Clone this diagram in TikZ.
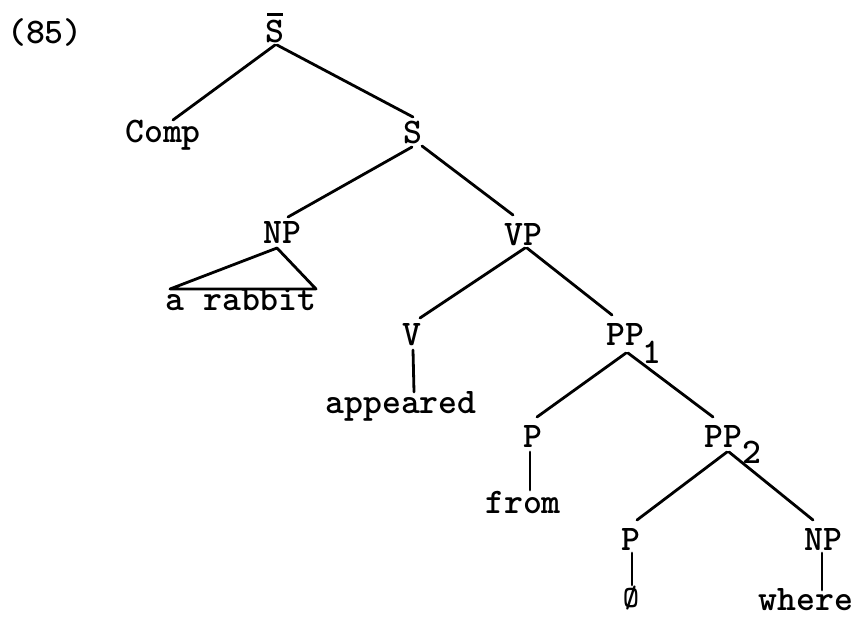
\documentclass[tikz,border=0pt]{standalone}
\usepackage{fontspec}
\usetikzlibrary{calc}
\begin{document}
\begin{tikzpicture}[x=1pt,y=-1pt,
  lab/.style={anchor=base,inner sep=0pt,font=\fontsize{36}{40}\selectfont\ttfamily\bfseries},
  edge/.style={line width=2.8pt,line cap=round,line join=round}]
\useasboundingbox (0,0) rectangle (862,619);
% nodes
\node[lab] (n85) at (45,43) {(85)};
\node[lab] (Sbar) at (275,42) {\makebox[0pt][l]{\hspace{1.5pt}\raisebox{26pt}{\rule{16pt}{2.6pt}}}S};
\node[lab] (Comp) at (163,142) {Comp};
\node[lab] (S) at (413,143) {S};
\node[lab] (NPa) at (282,243) {NP};
\node[lab] (rabbit) at (241,310) {a rabbit};
\node[lab] (VP) at (523,245) {VP};
\node[lab] (V) at (412,345) {V};
\node[lab] (PPa) at (625,345) {PP};
\node[lab] (suba) at (652,363) {1};
\node[lab] (appeared) at (401,413) {appeared};
\node[lab] (Pa) at (533,447) {P};
\node[lab] (PPb) at (723,447) {PP};
\node[lab] (subb) at (752,463) {2};
\node[lab] (from) at (523,513) {from};
\node[lab] (Pb) at (631,550) {P};
\node[lab] (NPb) at (823,550) {NP};
\node[lab,font=\fontsize{31}{36}\selectfont\ttfamily\bfseries] (null) at (631,607) {Ø};
\node[lab] (where) at (806,610) {where};
% connectors
\draw[edge] ($(Sbar.base)+(0,3)$) -- ($(Comp.base)+(10,-22)$);
\draw[edge] ($(Sbar.base)+(2,3)$) -- ($(S.base)+(0,-26)$);
\draw[edge] ($(S.base)+(-1,4)$) -- ($(NPa.base)+(6,-26)$);
\draw[edge] ($(S.base)+(9,3)$) -- ($(VP.base)+(-10,-30)$);
\draw[edge] ($(NPa.base)+(-5,5)$) -- ($(rabbit.base)+(-71,-21)$) -- ($(rabbit.base)+(75,-21)$) -- cycle;
\draw[edge] ($(VP.base)+(2,3)$) -- ($(V.base)+(8,-27)$);
\draw[edge] ($(VP.base)+(4,3)$) -- ($(PPa.base)+(-13,-30)$);
\draw[edge] ($(V.base)+(1,5)$) -- ($(appeared.base)+(13,-21)$);
\draw[edge] ($(PPa.base)+(1,8)$) -- ($(Pa.base)+(4,-30)$);
\draw[edge] ($(PPa.base)+(3,8)$) -- ($(PPb.base)+(-10,-30)$);
\draw[edge] ($(Pa.base)+(-3,5)$) -- ($(from.base)+(7,-23)$);
\draw[edge] ($(PPb.base)+(4,5)$) -- ($(Pb.base)+(6,-30)$);
\draw[edge] ($(PPb.base)+(6,5)$) -- ($(NPb.base)+(-10,-30)$);
\draw[edge] ($(Pb.base)+(1,3)$) -- ($(null.base)+(1,-22)$);
\draw[edge] ($(NPb.base)+(-1,3)$) -- ($(where.base)+(16,-20)$);
\end{tikzpicture}
\end{document}
